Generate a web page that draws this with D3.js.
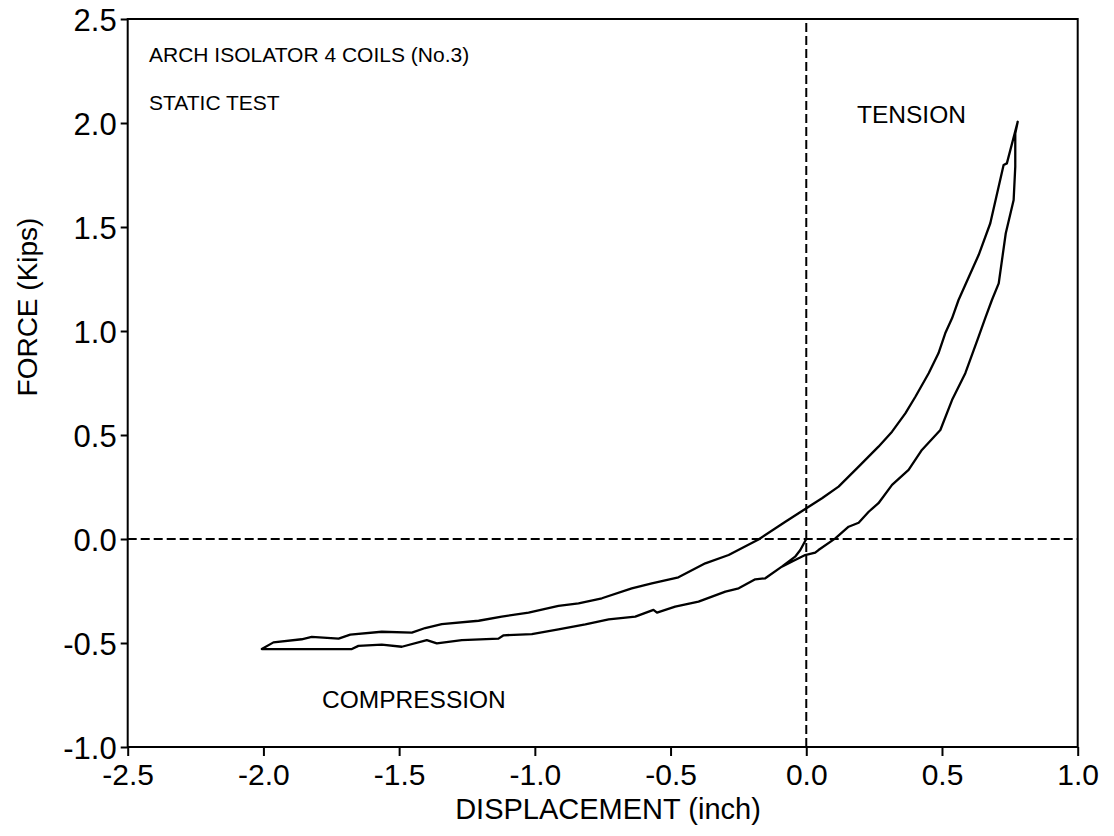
<!DOCTYPE html>
<html lang="en">
  <head>
    <meta charset="UTF-8" />
    <title>Arch Isolator 4 Coils - Static Test</title>
    <script src="https://d3js.org/d3.v7.min.js"></script>
    <style>
      body {
        margin: 0;
        padding: 0;
        background-color: #fff;
      }
      svg text {
        font-family: "Liberation Sans", Arial, Helvetica, sans-serif;
        fill: #000;
      }
    </style>
  </head>
  <body>
    <svg id="chart"></svg>

    <script>
      const width = 1114;
      const height = 836;

      // axis ticks
      const xTicks = [-2.5, -2.0, -1.5, -1.0, -0.5, 0.0, 0.5, 1.0];
      const yTicks = [-1.0, -0.5, 0.0, 0.5, 1.0, 1.5, 2.0, 2.5];

      // first push from the origin into compression
      const startX = [0, -0.022, -0.041, -0.09];
      const startF = [0, -0.053, -0.085, -0.133];

      // lower branch, going left to -2.0 inch
      const compX = [-0.151, -0.188, -0.249, -0.298, -0.397, -0.483, -0.55, -0.563, -0.63, -0.728, -0.814, -0.913, -1.011, -1.115, -1.134, -1.269, -1.361, -1.398, -1.49, -1.564, -1.65, -1.674, -2.006];
      const compF = [-0.189, -0.194, -0.237, -0.253, -0.301, -0.325, -0.354, -0.341, -0.373, -0.386, -0.41, -0.434, -0.457, -0.463, -0.479, -0.486, -0.502, -0.486, -0.518, -0.508, -0.514, -0.529, -0.529];

      // upper branch, going right up to the tension peak
      const tensX = [-1.963, -1.859, -1.822, -1.723, -1.68, -1.564, -1.453, -1.404, -1.343, -1.207, -1.122, -1.023, -0.913, -0.839, -0.753, -0.643, -0.569, -0.471, -0.372, -0.286, -0.176, -0.077, -0.004, 0.058, 0.119, 0.193, 0.266, 0.316, 0.365, 0.402, 0.451, 0.487, 0.512, 0.537, 0.561, 0.635, 0.678, 0.727, 0.739, 0.779];
      const tensF = [-0.497, -0.482, -0.471, -0.479, -0.46, -0.446, -0.45, -0.428, -0.409, -0.393, -0.373, -0.354, -0.322, -0.309, -0.285, -0.237, -0.213, -0.184, -0.117, -0.077, -0.002, 0.083, 0.144, 0.196, 0.252, 0.348, 0.444, 0.516, 0.604, 0.684, 0.797, 0.893, 0.989, 1.061, 1.149, 1.365, 1.518, 1.798, 1.806, 2.006];

      // unloading branch back down past zero
      const backX = [0.77, 0.77, 0.764, 0.735, 0.709, 0.684, 0.659, 0.635, 0.586, 0.537, 0.494, 0.426, 0.377, 0.316, 0.266, 0.23, 0.193, 0.156, 0.107, 0.045, 0.033, -0.004, -0.041, -0.09];
      const backF = [1.95, 1.79, 1.63, 1.47, 1.229, 1.149, 1.061, 0.973, 0.797, 0.668, 0.524, 0.428, 0.332, 0.26, 0.172, 0.131, 0.078, 0.059, 0.003, -0.053, -0.066, -0.077, -0.101, -0.133];

      const svg = d3.select("#chart").attr("width", width).attr("height", height);

      const x = d3.scaleLinear().domain([-2.5, 1.0]).range([127.7, 1077.7]);
      const y = d3.scaleLinear().domain([-1.0, 2.5]).range([747, 19]);

      const fmt = (d) => d.toFixed(1);

      // x axis
      const xAxis = svg
        .append("g")
        .attr("transform", `translate(0,${y(-1.0)})`)
        .call(d3.axisBottom(x).tickValues(xTicks).tickFormat(fmt).tickSize(9).tickSizeOuter(0).tickPadding(7));
      xAxis.select(".domain").remove();
      xAxis.selectAll(".tick line").attr("stroke", "#000").attr("stroke-width", 2);
      xAxis.selectAll(".tick text").attr("font-size", 30).attr("dy", "0.72em");

      // y axis
      const yAxis = svg
        .append("g")
        .attr("transform", `translate(${x(-2.5)},0)`)
        .call(d3.axisLeft(y).tickValues(yTicks).tickFormat(fmt).tickSize(7).tickSizeOuter(0).tickPadding(4));
      yAxis.select(".domain").remove();
      yAxis.selectAll(".tick line").attr("stroke", "#000").attr("stroke-width", 2);
      yAxis.selectAll(".tick text").attr("font-size", 31).attr("dy", "0.36em");

      // frame
      svg
        .append("rect")
        .attr("x", x(-2.5))
        .attr("y", y(2.5))
        .attr("width", x(1.0) - x(-2.5))
        .attr("height", y(-1.0) - y(2.5))
        .attr("fill", "none")
        .attr("stroke", "#000")
        .attr("stroke-width", 2);

      // zero lines
      svg.append("line").attr("x1", x(-2.5)).attr("x2", x(1.0)).attr("y1", y(0)).attr("y2", y(0))
        .attr("stroke", "#000").attr("stroke-width", 2).attr("stroke-dasharray", "9,4");
      svg.append("line").attr("x1", x(0)).attr("x2", x(0)).attr("y1", y(-1.0)).attr("y2", y(2.5))
        .attr("stroke", "#000").attr("stroke-width", 2).attr("stroke-dasharray", "9,4");

      // hysteresis loop
      const toPts = (xs, fs) => xs.map((v, i) => [v, fs[i]]);
      const loop = [].concat(toPts(startX, startF), toPts(compX, compF), toPts(tensX, tensF), toPts(backX, backF));

      const line = d3.line().x((d) => x(d[0])).y((d) => y(d[1]));

      svg
        .append("path")
        .datum(loop)
        .attr("d", line)
        .attr("fill", "none")
        .attr("stroke", "#000")
        .attr("stroke-width", 2.3)
        .attr("stroke-linejoin", "round");

      // axis titles
      svg.append("text").attr("x", 608).attr("y", 819).attr("text-anchor", "middle").attr("font-size", 29).text("DISPLACEMENT (inch)");
      svg.append("text").attr("transform", "translate(37,307) rotate(-90)").attr("text-anchor", "middle").attr("font-size", 28).text("FORCE (Kips)");

      // annotations
      svg.append("text").attr("x", 149).attr("y", 62).attr("font-size", 21).text("ARCH ISOLATOR 4 COILS (No.3)");
      svg.append("text").attr("x", 149).attr("y", 110).attr("font-size", 21).text("STATIC TEST");
      svg.append("text").attr("x", 857).attr("y", 123).attr("font-size", 24.5).text("TENSION");
      svg.append("text").attr("x", 322).attr("y", 708).attr("font-size", 24.5).text("COMPRESSION");
    </script>
  </body>
</html>
